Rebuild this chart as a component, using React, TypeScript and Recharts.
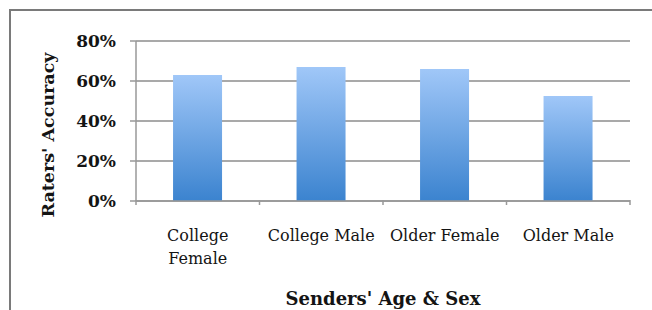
import { BarChart, Bar, XAxis, YAxis, CartesianGrid, Label, Text } from 'recharts';

const categories = ['College Female', 'College Male', 'Older Female', 'Older Male'];
const accuracy = [63, 67, 66, 52.5];
const yTicks = [0, 20, 40, 60, 80];

const chartData = categories.map((name, i) => ({ name, value: accuracy[i] }));

const serif = "'DejaVu Serif', serif";

function CategoryTick(props: any) {
  const { x, y, payload, index } = props;
  const half = payload.offset || 0;
  const axisY = y - 30;
  const isLast = index === categories.length - 1;
  return (
    <g>
      <line x1={x - half} x2={x - half} y1={axisY} y2={axisY + 5} stroke="#999" strokeWidth={1.5} />
      {isLast && <line x1={x + half} x2={x + half} y1={axisY} y2={axisY + 5} stroke="#999" strokeWidth={1.5} />}
      <Text
        x={x}
        y={y}
        width={122}
        textAnchor="middle"
        verticalAnchor="start"
        lineHeight={23}
        style={{ fontFamily: serif, fontSize: 16, fill: '#141414' }}
      >
        {payload.value}
      </Text>
    </g>
  );
}

export default function App() {
  return (
    <div style={{ position: 'absolute', left: 0, top: 0, width: 652, height: 310, background: '#fff' }}>
      <div
        style={{
          position: 'absolute',
          left: 9,
          top: 9,
          right: 0,
          bottom: 0,
          borderTop: '2px solid #7a7a7a',
          borderLeft: '2px solid #7a7a7a',
        }}
      />
      <BarChart
        width={652}
        height={310}
        data={chartData}
        margin={{ top: 41, right: 22, left: 0, bottom: 0 }}
        barCategoryGap="30%"
        style={{ position: 'absolute', left: 0, top: 0 }}
      >
        <defs>
          <linearGradient id="barFill" x1="0" y1="0" x2="0" y2="1">
            <stop offset="0%" stopColor="#a0c7f8" />
            <stop offset="100%" stopColor="#3b83cf" />
          </linearGradient>
        </defs>
        <CartesianGrid vertical={false} stroke="#8c8c8c" strokeWidth={1.5} />
        <XAxis
          dataKey="name"
          height={109}
          interval={0}
          tick={<CategoryTick />}
          tickLine={false}
          axisLine={{ stroke: '#999', strokeWidth: 1.5 }}
          tickMargin={23}
        >
          <Label
            content={(p: any) => {
              const vb = p.viewBox;
              return (
                <text
                  x={vb.x + vb.width / 2}
                  y={vb.y + 104}
                  textAnchor="middle"
                  style={{ fontFamily: serif, fontSize: 18, fontWeight: 'bold', fill: '#141414' }}
                >
                  Senders' Age &amp; Sex
                </text>
              );
            }}
          />
        </XAxis>
        <YAxis
          width={136}
          domain={[0, 80]}
          ticks={yTicks}
          tickFormatter={(v: number) => `${v}%`}
          tick={{ fontFamily: serif, fontSize: 17, fontWeight: 'bold', fill: '#141414' }}
          tickLine={{ stroke: '#999', strokeWidth: 1.5 }}
          tickSize={6}
          tickMargin={14}
          axisLine={{ stroke: '#999', strokeWidth: 1.5 }}
        >
          <Label
            content={(p: any) => {
              const vb = p.viewBox;
              const cx = 48;
              const cy = vb.y + vb.height / 2 + 14;
              return (
                <text
                  x={cx}
                  y={cy}
                  transform={`rotate(-90, ${cx}, ${cy})`}
                  textAnchor="middle"
                  dominantBaseline="central"
                  style={{ fontFamily: serif, fontSize: 17.5, fontWeight: 'bold', fill: '#141414' }}
                >
                  Raters' Accuracy
                </text>
              );
            }}
          />
        </YAxis>
        <Bar dataKey="value" fill="url(#barFill)" isAnimationActive={false} />
      </BarChart>
    </div>
  );
}
